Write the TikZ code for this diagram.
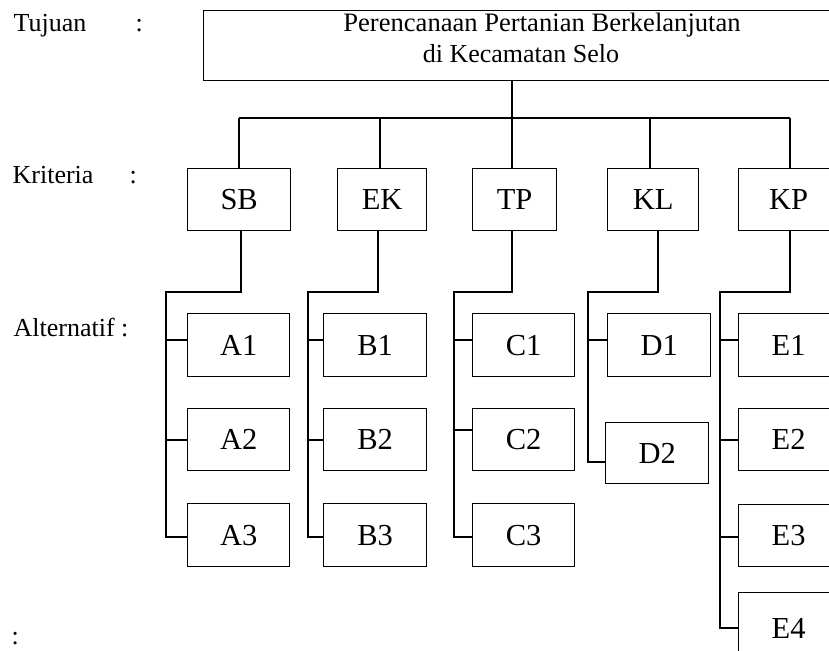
\documentclass[tikz,border=0pt]{standalone}
\usepackage{fontspec}
\setmainfont{Liberation Serif}
\begin{document}
\begin{tikzpicture}[x=1pt,y=-1pt,line width=1.3pt,
  box/.style={draw,inner sep=0pt,anchor=north west,font=\fontsize{30.5}{30.5}\selectfont},
  lbl/.style={inner sep=0pt,anchor=base west,font=\fontsize{26}{26}\selectfont},
  ttl/.style={inner sep=0pt,anchor=base,font=\fontsize{26.6}{26.6}\selectfont}]
\useasboundingbox (0,0) rectangle (829,650);

% goal
\node[draw,inner sep=0pt,anchor=north west,minimum width=640pt,minimum height=70pt] (goal) at (203,10) {};
\node[ttl] (goal1) at (542,32) {Perencanaan Pertanian Berkelanjutan};
\node[ttl,font=\fontsize{26}{26}\selectfont] (goal2) at (521,63) {di Kecamatan Selo};

% level labels
\node[lbl] (lTuj) at (13,32) {Tujuan};
\node[lbl] (cTuj) at (135,32) {:};
\node[lbl] (lKri) at (12,183) {Kriteria};
\node[lbl] (cKri) at (129,183) {:};
\node[lbl] (lAlt) at (13,336) {Alternatif :};
\node[lbl] (cLow) at (11,644) {:};

% criteria
\node[box,minimum width=103pt,minimum height=62pt] (SB) at (187,168) {SB};
\node[box,minimum width=89pt,minimum height=62pt]  (EK) at (337,168) {EK};
\node[box,minimum width=84pt,minimum height=62pt]  (TP) at (472,168) {TP};
\node[box,minimum width=91pt,minimum height=62pt]  (KL) at (607,168) {KL};
\node[box,minimum width=100pt,minimum height=62pt] (KP) at (738,168) {KP};

% alternatives
\node[box,minimum width=102pt,minimum height=63pt] (A1) at (187,313) {A1};
\node[box,minimum width=102pt,minimum height=62pt] (A2) at (187,408) {A2};
\node[box,minimum width=102pt,minimum height=63pt] (A3) at (187,503) {A3};
\node[box,minimum width=103pt,minimum height=63pt] (B1) at (323,313) {B1};
\node[box,minimum width=103pt,minimum height=62pt] (B2) at (323,408) {B2};
\node[box,minimum width=103pt,minimum height=63pt] (B3) at (323,503) {B3};
\node[box,minimum width=102pt,minimum height=63pt] (C1) at (472,313) {C1};
\node[box,minimum width=102pt,minimum height=62pt] (C2) at (472,408) {C2};
\node[box,minimum width=102pt,minimum height=63pt] (C3) at (472,503) {C3};
\node[box,minimum width=103pt,minimum height=63pt] (D1) at (607,313) {D1};
\node[box,minimum width=103pt,minimum height=61pt] (D2) at (605,422) {D2};
\node[box,minimum width=100pt,minimum height=63pt] (E1) at (738,313) {E1};
\node[box,minimum width=100pt,minimum height=62pt] (E2) at (738,408) {E2};
\node[box,minimum width=100pt,minimum height=62pt] (E3) at (738,504) {E3};
\node[box,minimum width=100pt,minimum height=72pt] (E4) at (738,592) {E4};

% goal to criteria
\coordinate (gx) at (512,80);
\coordinate (busL) at (239,118);
\coordinate (busR) at (790,118);
\coordinate (ekT) at (380,118);
\coordinate (klT) at (650,118);
\draw (goal.south -| gx) -- (TP.north -| gx);
\draw (busL) -- (busR);
\draw (busL) -- (SB.north -| busL);
\draw (ekT) -- (EK.north -| ekT);
\draw (klT) -- (KL.north -| klT);
\draw (busR) -- (KP.north -| busR);

% SB branch
\coordinate (sbJ) at (241,292);
\coordinate (sbL) at (166,292);
\coordinate (sbE) at (166,537);
\draw (SB.south -| sbJ) -- (sbJ) -- (sbL) -- (sbE) -- (sbE -| A3.west);
\draw (sbL |- 0,340) -- (A1.west |- 0,340);
\draw (sbL |- 0,440) -- (A2.west |- 0,440);

% EK branch
\coordinate (ekJ) at (378,292);
\coordinate (ekL) at (308,292);
\coordinate (ekE) at (308,537);
\draw (EK.south -| ekJ) -- (ekJ) -- (ekL) -- (ekE) -- (ekE -| B3.west);
\draw (ekL |- 0,340) -- (B1.west |- 0,340);
\draw (ekL |- 0,440) -- (B2.west |- 0,440);

% TP branch
\coordinate (tpJ) at (512,292);
\coordinate (tpL) at (454,292);
\coordinate (tpE) at (454,537);
\draw (TP.south -| tpJ) -- (tpJ) -- (tpL) -- (tpE) -- (tpE -| C3.west);
\draw (tpL |- 0,340) -- (C1.west |- 0,340);
\draw (tpL |- 0,430) -- (C2.west |- 0,430);

% KL branch
\coordinate (klJ) at (658,292);
\coordinate (klL) at (588,292);
\coordinate (klE) at (588,462);
\draw (KL.south -| klJ) -- (klJ) -- (klL) -- (klE) -- (klE -| D2.west);
\draw (klL |- 0,340) -- (D1.west |- 0,340);

% KP branch
\coordinate (kpJ) at (790,292);
\coordinate (kpL) at (720,292);
\coordinate (kpE) at (720,628);
\draw (KP.south -| kpJ) -- (kpJ) -- (kpL) -- (kpE) -- (kpE -| E4.west);
\draw (kpL |- 0,340) -- (E1.west |- 0,340);
\draw (kpL |- 0,440) -- (E2.west |- 0,440);
\draw (kpL |- 0,537) -- (E3.west |- 0,537);
\end{tikzpicture}
\end{document}
